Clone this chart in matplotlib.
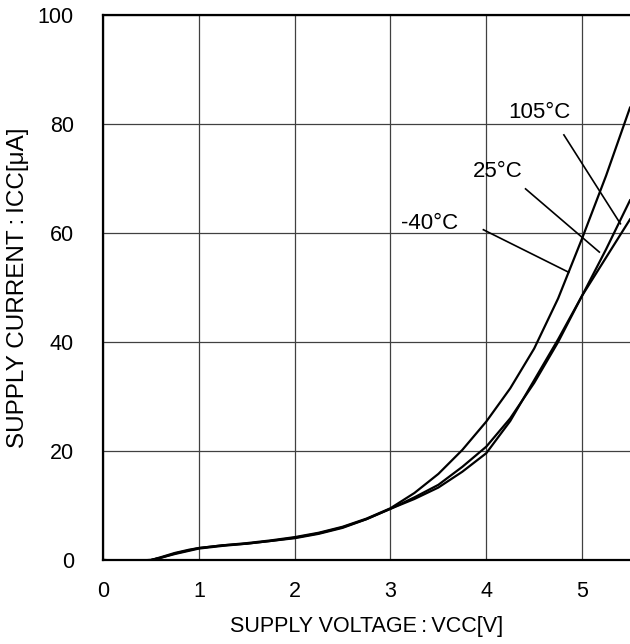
import matplotlib
matplotlib.use('Agg')
import matplotlib.pyplot as plt

plt.rcParams['font.family'] = ['Liberation Sans', 'DejaVu Sans']

vcc = [0.0, 0.25, 0.5, 0.6, 0.75, 0.9, 1.0, 1.25, 1.5, 1.75, 2.0, 2.25, 2.5, 2.75,
       3.0, 3.25, 3.5, 3.75, 4.0, 4.25, 4.5, 4.75, 5.0, 5.25, 5.5]

icc_m40 = [0.0, -0.1, 0.0, 0.4, 1.2, 1.8, 2.2, 2.7, 3.1, 3.6, 4.2, 5.0, 6.1, 7.6,
           9.5, 12.3, 15.8, 20.2, 25.4, 31.5, 38.8, 48.0, 59.0, 70.5, 83.0]
icc_25 = [0.0, -0.1, 0.0, 0.4, 1.1, 1.7, 2.1, 2.6, 3.0, 3.5, 4.0, 4.8, 5.9, 7.5,
          9.4, 11.2, 13.3, 16.2, 19.6, 25.5, 33.0, 40.5, 48.5, 55.5, 62.5]
icc_105 = [0.0, -0.1, 0.0, 0.5, 1.3, 1.9, 2.2, 2.7, 3.0, 3.5, 4.1, 4.9, 6.0, 7.5,
           9.4, 11.5, 13.8, 17.1, 20.8, 26.0, 32.5, 40.0, 48.5, 57.0, 66.0]

xticks = [0, 1, 2, 3, 4, 5]
yticks = [0, 20, 40, 60, 80, 100]

fig = plt.figure(figsize=(6.3, 6.44), dpi=100)
ax = fig.add_axes([0.1635, 0.1304, 1.0 - 0.1635, 0.9767 - 0.1304])

for icc in (icc_m40, icc_25, icc_105):
    ax.plot(vcc, icc, color='black', linewidth=1.6, solid_joinstyle='round')

# labels with leader lines
ax.text(4.55, 82.2, '105°C', fontsize=16, ha='center', va='center')
ax.plot([4.81, 5.40], [78.0, 61.7], color='black', linewidth=1.2)
ax.text(4.12, 71.2, '25°C', fontsize=16, ha='center', va='center')
ax.plot([4.41, 5.18], [68.1, 56.5], color='black', linewidth=1.2)
ax.text(3.41, 61.8, '-40°C', fontsize=16, ha='center', va='center')
ax.plot([3.97, 4.86], [60.6, 52.8], color='black', linewidth=1.2)

ax.set_xlim(0, 5.5)
ax.set_ylim(0, 100)
ax.set_xticks(xticks)
ax.set_yticks(yticks)
ax.grid(True, color='#404040', linewidth=0.9)
ax.set_axisbelow(True)
ax.tick_params(axis='x', length=0, pad=15, labelsize=15.5)
ax.tick_params(axis='y', length=0, pad=21, labelsize=15.5)

for side in ('left', 'bottom', 'top'):
    ax.spines[side].set_linewidth(1.6)
ax.spines['right'].set_visible(False)

ax.set_xlabel('SUPPLY VOLTAGE\u2009:\u2009VCC[V]', fontsize=15.5, labelpad=10)
ax.set_ylabel('SUPPLY CURRENT\u2009:\u2009ICC[μA]', fontsize=17.5, labelpad=6)

fig.savefig('out.png', dpi=100)
